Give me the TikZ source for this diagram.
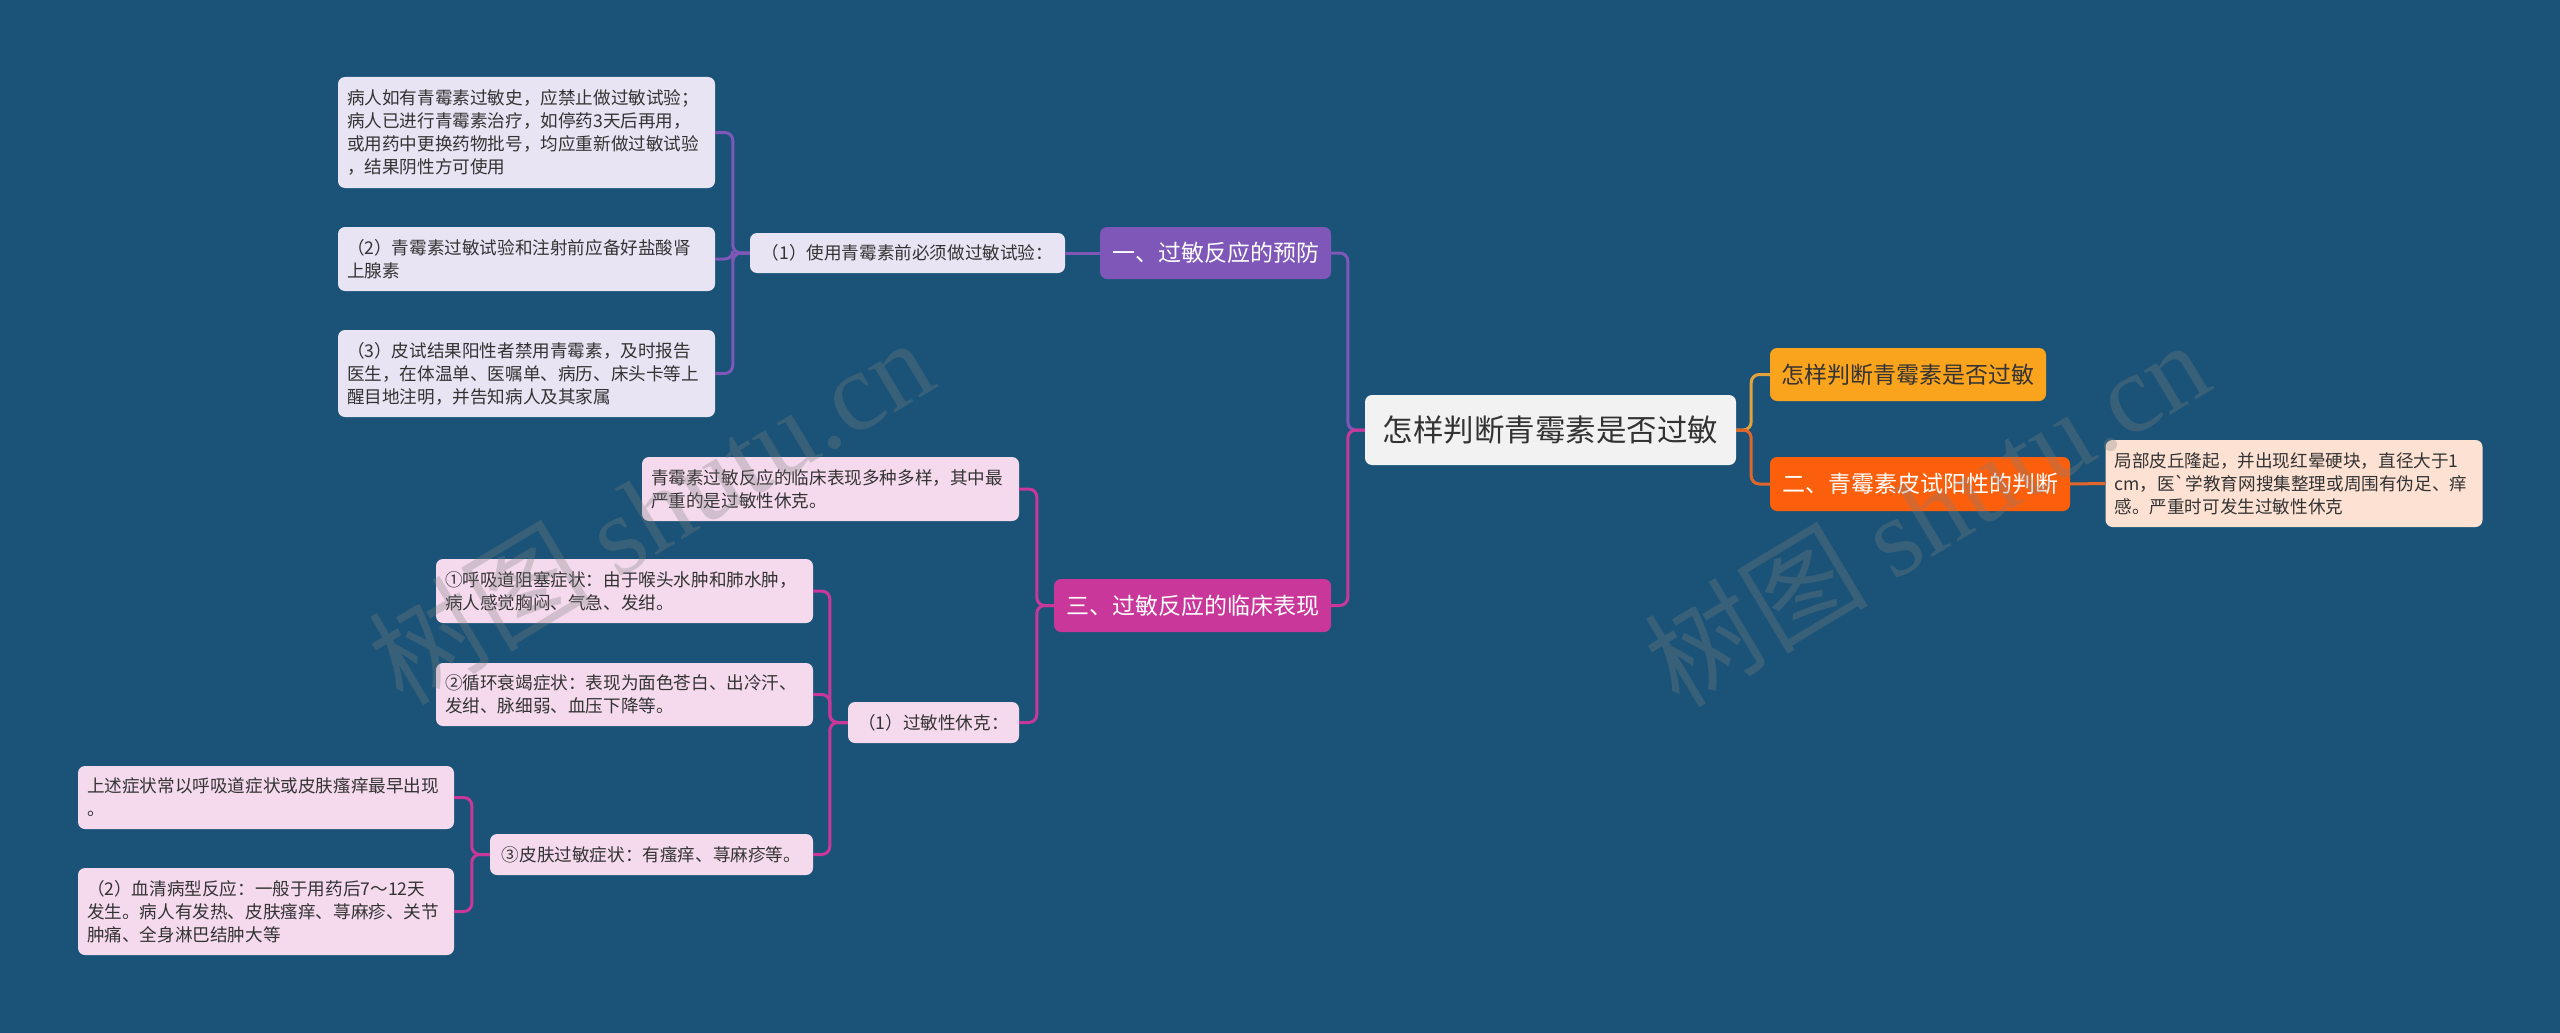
\documentclass[tikz,border=0pt]{standalone}
\usepackage{fontspec}
\setmainfont{Noto Sans CJK SC}
\newfontfamily\rawfont{Noto Sans CJK SC}
\newfontfamily\wmfont{Liberation Serif}
\definecolor{bg}{HTML}{1A5377}
\definecolor{txt}{HTML}{333333}
\definecolor{cpurple}{HTML}{7E57B8}
\definecolor{cmag}{HTML}{C9379B}
\definecolor{cyel}{HTML}{FAA41E}
\definecolor{cyelline}{HTML}{E4A23C}
\definecolor{cred}{HTML}{FB5F0C}
\definecolor{credline}{HTML}{E2652A}
\definecolor{rootfill}{HTML}{F2F2F2}
\definecolor{lav}{HTML}{E8E4F3}
\definecolor{pink}{HTML}{F5DAEE}
\definecolor{peach}{HTML}{FDE2D4}
\begin{document}
\begin{tikzpicture}[x=1pt,y=-1pt,
  box/.style={rectangle, rounded corners=7pt, inner xsep=9pt, inner ysep=0pt,
    align=left, text=txt, font=\fontsize{17.6}{23}\selectfont},
  leaf/.style={box, text width=359pt},
  branch/.style={rectangle, rounded corners=7pt, inner sep=0pt, align=center,
    text=white, font=\fontsize{23}{28}\selectfont},
  link/.style={line width=3pt, rounded corners=8pt},
  wm/.style={rotate=31, text=gray, opacity=0.3, font=\fontsize{112}{116}\selectfont}
]
\fill[bg] (0,0) rectangle (2560,1033);

% root
\node[rectangle, rounded corners=7pt, fill=rootfill, minimum width=371pt, minimum height=70pt,
  inner sep=0pt, text=txt, font=\fontsize{30.5}{34}\selectfont] (root) at (1550.5,430) {怎样判断青霉素是否过敏};

% right side
\node[branch, fill=cyel, text=txt, minimum width=276pt, minimum height=53pt] (n2) at (1908,374.5) {怎样判断青霉素是否过敏};
\node[branch, fill=cred, minimum width=300pt, minimum height=54pt] (n3) at (1920,484) {二、青霉素皮试阳性的判断};
\node[leaf, fill=peach, minimum height=87pt] (n4) at (2294,483.5)
  {局部皮丘隆起，并出现红晕硬块，直径大于1\\cm，医{\rawfont `}学教育网搜集整理或周围有伪足、痒\\感。严重时可发生过敏性休克};

% branch one
\node[branch, fill=cpurple, minimum width=231pt, minimum height=52pt] (n5) at (1215.5,253) {一、过敏反应的预防};
\node[box, fill=lav, minimum width=315pt, minimum height=40pt] (n6) at (907.5,253) {（1）使用青霉素前必须做过敏试验：};
\node[leaf, fill=lav, minimum height=111pt] (n7) at (526.5,132.5)
  {病人如有青霉素过敏史，应禁止做过敏试验；\\病人已进行青霉素治疗，如停药3天后再用，\\或用药中更换药物批号，均应重新做过敏试验\\，结果阴性方可使用};
\node[leaf, fill=lav, minimum height=64pt] (n8) at (526.5,259)
  {（2）青霉素过敏试验和注射前应备好盐酸肾\\上腺素};
\node[leaf, fill=lav, minimum height=87pt] (n9) at (526.5,373.5)
  {（3）皮试结果阳性者禁用青霉素，及时报告\\医生，在体温单、医嘱单、病历、床头卡等上\\醒目地注明，并告知病人及其家属};

% branch three
\node[branch, fill=cmag, minimum width=277pt, minimum height=53pt] (n11) at (1192.5,605.5) {三、过敏反应的临床表现};
\node[leaf, fill=pink, minimum height=64pt] (n12) at (830.5,489)
  {青霉素过敏反应的临床表现多种多样，其中最\\严重的是过敏性休克。};
\node[box, fill=pink, minimum width=171pt, minimum height=41pt] (n13) at (933.5,722.5) {（1）过敏性休克：};
\node[leaf, fill=pink, minimum height=64pt] (n14) at (624.5,591)
  {①呼吸道阻塞症状：由于喉头水肿和肺水肿，\\病人感觉胸闷、气急、发绀。};
\node[leaf, fill=pink, minimum height=63pt] (n15) at (624.5,694.5)
  {②循环衰竭症状：表现为面色苍白、出冷汗、\\发绀、脉细弱、血压下降等。};
\node[box, fill=pink, minimum width=323pt, minimum height=41pt] (n16) at (651.5,854.5) {③皮肤过敏症状：有瘙痒、荨麻疹等。};
\node[leaf, fill=pink, text width=358pt, minimum height=63pt] (n17) at (266,797.5)
  {上述症状常以呼吸道症状或皮肤瘙痒最早出现\\。};
\node[leaf, fill=pink, text width=358pt, minimum height=87pt] (n18) at (266,911.5)
  {（2）血清病型反应：一般于用药后7～12天\\发生。病人有发热、皮肤瘙痒、荨麻疹、关节\\肿痛、全身淋巴结肿大等};

% connectors
\draw[link, cpurple] (root.west) -- ++(-17,0) |- (n5.east);
\draw[link, cmag] (root.west) -- ++(-17,0) |- (n11.east);
\draw[link, cyelline] (root.east) -- ++(15,0) |- (n2.west);
\draw[link, credline] (root.east) -- ++(15,0) |- (n3.west);
\draw[link, credline] (n3.east) -- (n4.west);

\draw[link, cpurple] (n5.west) -- (n6.east);
\draw[link, cpurple] (n6.west) -- ++(-17,0) |- (n7.east);
\draw[link, cpurple] (n6.west) -- ++(-17,0) |- (n8.east);
\draw[link, cpurple] (n6.west) -- ++(-17,0) |- (n9.east);

\draw[link, cmag] (n11.west) -- ++(-17,0) |- (n12.east);
\draw[link, cmag] (n11.west) -- ++(-17,0) |- (n13.east);
\draw[link, cmag] (n13.west) -- ++(-18,0) |- (n14.east);
\draw[link, cmag] (n13.west) -- ++(-18,0) |- (n15.east);
\draw[link, cmag] (n13.west) -- ++(-18,0) |- (n16.east);
\draw[link, cmag] (n16.west) -- ++(-18,0) |- (n17.east);
\draw[link, cmag] (n16.west) -- ++(-18,0) |- (n18.east);

% watermarks
\node[wm] (wm1) at (650,510) {树图 {\wmfont shutu.cn}};
\node[wm] (wm2) at (1926,512) {树图 {\wmfont shutu.cn}};
\end{tikzpicture}
\end{document}
